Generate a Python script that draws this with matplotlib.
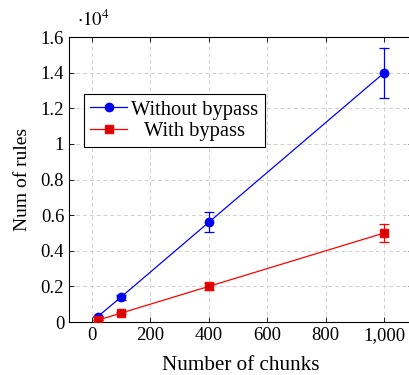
import matplotlib
matplotlib.use("Agg")
import matplotlib.pyplot as plt
from matplotlib.ticker import FuncFormatter

chunks = [20, 100, 400, 1000]
without_bypass = [300, 1400, 5600, 14000]
without_err = [30, 140, 560, 1400]
with_bypass = [100, 500, 2000, 5000]
with_err = [10, 50, 200, 500]
xticks = [0, 200, 400, 600, 800, 1000]
xtick_labels = ["0", "200", "400", "600", "800", "1,000"]
yticks = [0, 2000, 4000, 6000, 8000, 10000, 12000, 14000, 16000]

plt.rcParams['font.family'] = ['Liberation Serif', 'DejaVu Serif']
plt.rcParams['mathtext.fontset'] = 'stix'

fig = plt.figure(figsize=(4.09, 3.75), dpi=100)
ax = fig.add_axes([0.1687, 0.1413, 0.841, 0.76])

ax.errorbar(chunks, without_bypass, yerr=without_err, fmt='none', ecolor='#0000ff',
            capsize=3.5, elinewidth=0.9, capthick=0.9, zorder=3)
ax.errorbar(chunks, with_bypass, yerr=with_err, fmt='none', ecolor='#ff0000',
            capsize=3.5, elinewidth=0.9, capthick=0.9, zorder=3)
ax.plot(chunks, without_bypass, color='#0000ff', lw=0.9, marker='o', ms=6,
        mfc='#0000e6', mec='#0000ff', label='Without bypass', zorder=4)
ax.plot(chunks, with_bypass, color='#ff0000', lw=0.9, marker='s', ms=5.5,
        mfc='#d40000', mec='#ff0000', label='With bypass', zorder=4)

ax.set_xlim(-78, 1098)
ax.set_ylim(0, 16000)
ax.set_xticks(xticks)
ax.set_xticklabels(xtick_labels)
ax.set_yticks(yticks)
ax.yaxis.set_major_formatter(FuncFormatter(lambda v, p: ('%g' % (v / 1e4))))
ax.tick_params(direction='in', top=True, right=True, labelsize=13.5, length=3.5, width=0.6)
ax.grid(True, ls=(0, (4, 3)), color='#d0d0d0', lw=0.7)
ax.set_axisbelow(True)
for s in ax.spines.values():
    s.set_linewidth(0.8)

ax.set_xlabel('Number of chunks', fontsize=15.2, labelpad=9)
ax.set_ylabel('Num of rules', fontsize=14, labelpad=7)
fig.text(0.188, 0.947, r'$\cdot 10^{4}$', fontsize=13.5, ha='left', va='center')

leg = ax.legend(loc='upper left', bbox_to_anchor=(0.044, 0.80), fontsize=14.8,
                frameon=True, fancybox=False, edgecolor='black', framealpha=1,
                borderpad=0.3, handlelength=1.8, handletextpad=0.2, labelspacing=0.1,
                borderaxespad=0)
leg.get_frame().set_linewidth(0.8)

fig.canvas.draw()
texts = leg.get_texts()
w1 = texts[0].get_window_extent().width
w2 = texts[1].get_window_extent().width
texts[1].set_x((w1 - w2) / 2)

fig.savefig('out.png', dpi=100)
